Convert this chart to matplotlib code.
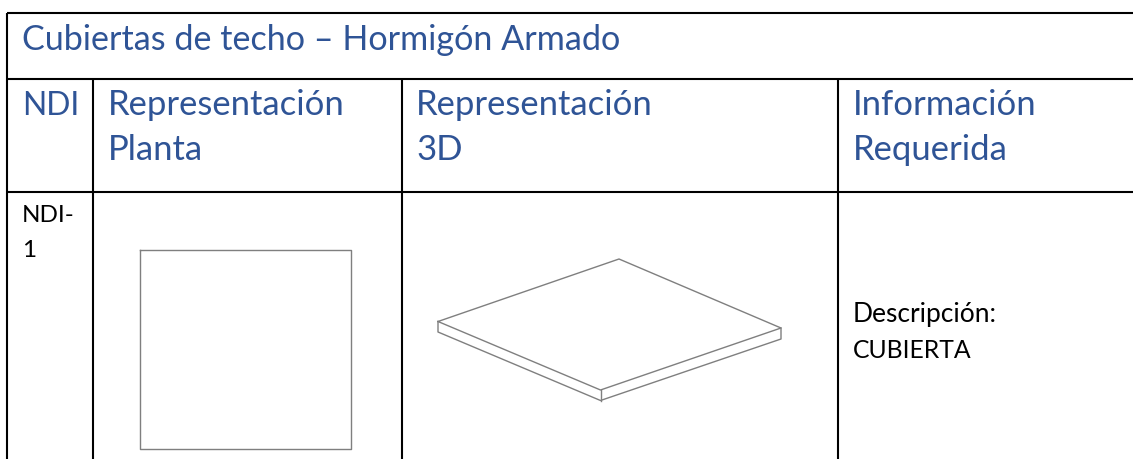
import matplotlib
matplotlib.use("Agg")
import matplotlib.pyplot as plt

W, H = 1133, 459
BLUE = "#2F5496"
BLACK = "#000000"
GREY = "#7f7f7f"
plt.rcParams['font.family'] = ['Lato', 'DejaVu Sans']

title = "Cubiertas de techo – Hormigón Armado"
headers = ["NDI", "Representación\nPlanta", "Representación\n3D", "Información\nRequerida"]
header_x = [22, 108, 416, 853]
row_id = "NDI-\n1"
info = "Descripción:\nCUBIERTA"

row_y = [13, 79, 192]
col_x = [7, 93, 402, 838]
right_x = 1133

plan_x = [140, 351, 351, 140, 140]
plan_y = [250, 250, 449, 449, 250]

top_x = [438, 619, 781, 600.5, 438]
top_y = [321.5, 259, 328, 390, 321.5]
edges = [
    ([438, 438, 600.5, 781, 781], [321.5, 332, 400.5, 339, 328]),
    ([600.5, 600.5], [390, 400.5]),
]

fig = plt.figure(figsize=(W / 100, H / 100), dpi=100, facecolor="white")
ax = fig.add_axes([0, 0, 1, 1])
ax.set_xlim(0, W)
ax.set_ylim(H, 0)
ax.axis("off")

LW = 1.5
for y in row_y:
    ax.plot([col_x[0], right_x], [y, y], color=BLACK, lw=LW, solid_capstyle="butt")
ax.plot([col_x[0], col_x[0]], [row_y[0], H], color=BLACK, lw=LW, solid_capstyle="butt")
for x in col_x[1:]:
    ax.plot([x, x], [row_y[1], H], color=BLACK, lw=LW, solid_capstyle="butt")

ax.plot(plan_x, plan_y, color=GREY, lw=1.0)
ax.plot(top_x, top_y, color=GREY, lw=1.0)
for ex, ey in edges:
    ax.plot(ex, ey, color=GREY, lw=1.0)

BIG = 24.9
ax.text(header_x[0], 50, title, color=BLUE, fontsize=24.6, va="baseline", ha="left")
ax.text(header_x[0], 115, headers[0], color=BLUE, fontsize=BIG * 0.92, va="baseline", ha="left")
for label, x in zip(headers[1:], header_x[1:]):
    first, second = label.split("\n")
    ax.text(x, 115, first, color=BLUE, fontsize=BIG, va="baseline", ha="left")
    ax.text(x, 160.5, second, color=BLUE, fontsize=BIG, va="baseline", ha="left")

first, second = row_id.split("\n")
ax.text(22, 222, first, color=BLACK, fontsize=17.5, va="baseline", ha="left")
ax.text(22.5, 257, second, color=BLACK, fontsize=17.5, va="baseline", ha="left")
first, second = info.split("\n")
ax.text(853, 322, first, color=BLACK, fontsize=19, va="baseline", ha="left")
ax.text(853, 358, second, color=BLACK, fontsize=17.8, va="baseline", ha="left")

fig.savefig("out.png", dpi=100, facecolor="white")
